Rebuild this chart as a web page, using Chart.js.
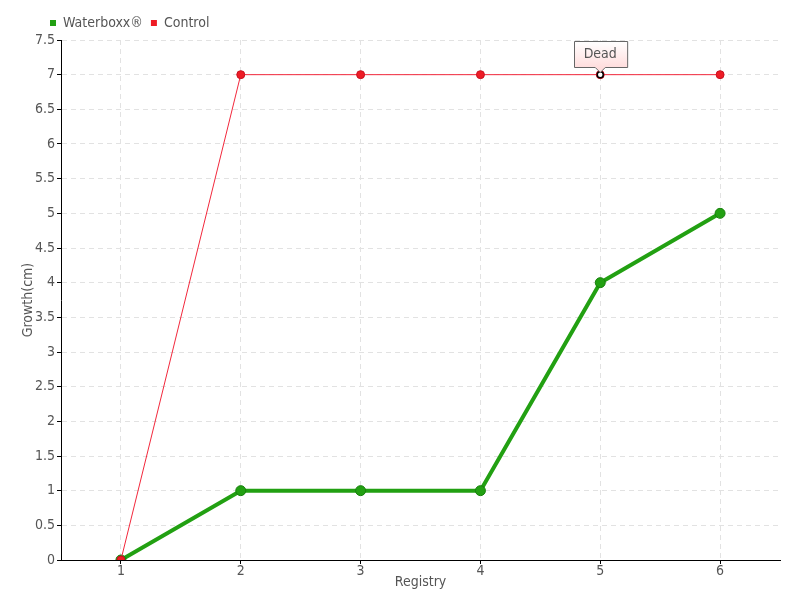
<!DOCTYPE html>
<html>
<head>
<meta charset="utf-8">
<script src="https://cdn.jsdelivr.net/npm/chart.js@4.4.0/dist/chart.umd.min.js"></script>
<style>
  body { margin: 0; background: #fff; }
  #wrap { width: 800px; height: 600px; }
</style>
</head>
<body>
<div id="wrap"><canvas id="c" width="800" height="600"></canvas></div>
<script>
// chart data
const registries = ['1', '2', '3', '4', '5', '6'];
const waterboxx = [0, 1, 1, 1, 4, 5];
const control = [0, 7, 7, 7, 7, 7];
const controlNotes = ['', '', '', '', 'Dead', ''];

const FONT = "'DejaVu Sans Condensed', 'Liberation Sans Narrow', 'DejaVu Sans', sans-serif";
const TEXT = '#555';

// draws the "Dead" callout above the marked point
const notePlugin = {
  id: 'notes',
  afterLayout(chart) {
    // legend sits a bit left of the plot area
    chart.legend.left = 42;
  },
  afterDatasetsDraw(chart) {
    const ctx = chart.ctx;
    const meta = chart.getDatasetMeta(0);
    controlNotes.forEach((note, i) => {
      if (!note) return;
      const pt = meta.data[i];
      const x = pt.x, y = pt.y;
      // highlighted point
      ctx.save();
      ctx.beginPath();
      ctx.arc(x, y, 3, 0, Math.PI * 2);
      ctx.fillStyle = '#fff';
      ctx.fill();
      ctx.lineWidth = 1.5;
      ctx.strokeStyle = '#000';
      ctx.stroke();

      ctx.font = '14px ' + FONT;
      const w = ctx.measureText(note).width + 20;
      const h = 26;
      const bx = Math.round(x - w / 2) + 0.5;
      const by = Math.round(y - 8 - h) + 0.5;
      const grad = ctx.createLinearGradient(0, by, 0, by + h);
      grad.addColorStop(0, '#fff');
      grad.addColorStop(1, '#fdd');
      ctx.beginPath();
      ctx.moveTo(bx, by);
      ctx.lineTo(bx + w, by);
      ctx.lineTo(bx + w, by + h);
      ctx.lineTo(x + 5, by + h);
      ctx.lineTo(x, by + h + 5);
      ctx.lineTo(x - 5, by + h);
      ctx.lineTo(bx, by + h);
      ctx.closePath();
      ctx.fillStyle = grad;
      ctx.fill();
      ctx.strokeStyle = '#666';
      ctx.lineWidth = 1;
      ctx.stroke();
      ctx.fillStyle = TEXT;
      ctx.textAlign = 'center';
      ctx.textBaseline = 'middle';
      ctx.fillText(note, x, by + h / 2);
      ctx.restore();
    });
  }
};

new Chart(document.getElementById('c'), {
  type: 'line',
  data: {
    labels: registries,
    datasets: [
      {
        label: 'Control',
        data: control,
        borderColor: '#f2283c',
        backgroundColor: '#ee1c25',
        borderWidth: 1,
        pointRadius: 4,
        pointBorderWidth: 1,
        pointBorderColor: '#c81020',
        pointBackgroundColor: '#ee1c25',
        tension: 0
      },
      {
        label: 'Waterboxx®',
        data: waterboxx,
        borderColor: '#22a012',
        backgroundColor: '#22a012',
        borderWidth: 4,
        pointRadius: 5,
        pointBorderWidth: 1,
        pointBorderColor: '#17800c',
        pointBackgroundColor: '#22a012',
        tension: 0
      }
    ]
  },
  options: {
    responsive: false,
    animation: false,
    layout: { padding: { top: 8, right: 20, left: 21, bottom: 11 } },
    plugins: {
      legend: {
        position: 'top',
        align: 'start',
        fullSize: false,
        labels: {
          boxWidth: 6,
          boxHeight: 6,
          padding: 8,
          color: TEXT,
          font: { family: FONT, size: 14 },
          sort: (a, b) => b.datasetIndex - a.datasetIndex,
          generateLabels: (chart) => Chart.defaults.plugins.legend.labels.generateLabels(chart)
            .map(item => Object.assign(item, { lineWidth: 0 }))
        }
      },
      tooltip: { enabled: false }
    },
    scales: {
      x: {
        offset: true,
        title: { display: true, text: 'Registry', color: TEXT, font: { family: FONT, size: 14, lineHeight: 1 }, padding: { top: -3, bottom: 0 } },
        ticks: { color: TEXT, font: { family: FONT, size: 14, lineHeight: 1 }, padding: 0 },
        border: { color: '#000', width: 1, dash: [5, 4] },
        grid: {
          color: '#e2e2e2',
          tickColor: '#000',
          tickLength: 4,
          offset: false
        }
      },
      y: {
        min: 0,
        max: 7.5,
        title: { display: true, text: 'Growth(cm)', color: TEXT, font: { family: FONT, size: 14, lineHeight: 1 }, padding: { top: 0, bottom: -2 } },
        ticks: { stepSize: 0.5, color: TEXT, font: { family: FONT, size: 14 }, padding: 2,
          callback: (v) => String(v) },
        border: { color: '#000', width: 1, dash: [5, 4] },
        grid: {
          color: '#e2e2e2',
          tickColor: '#000',
          tickLength: 4
        }
      }
    }
  },
  plugins: [notePlugin]
});
</script>
</body>
</html>
